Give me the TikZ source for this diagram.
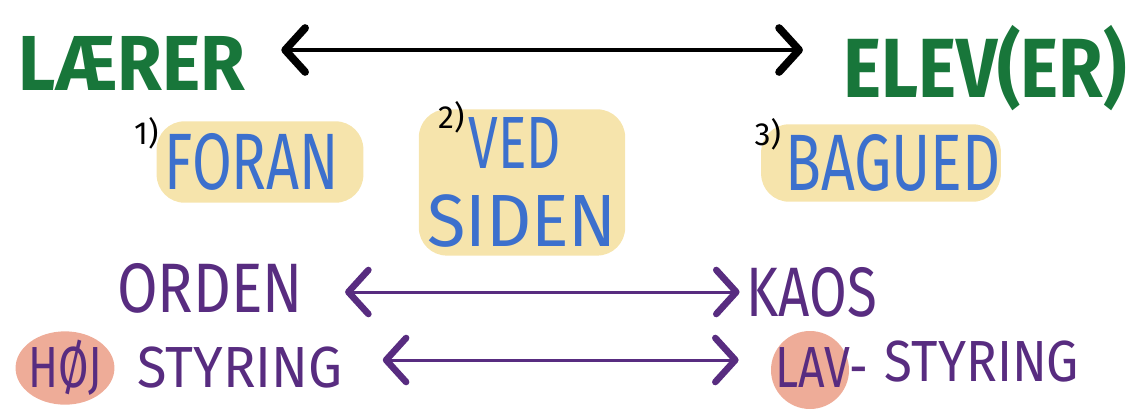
\documentclass[tikz,border=0pt]{standalone}
\usepackage{fontspec}
\setmainfont{Fira Sans}
\usepackage{graphicx}
\usetikzlibrary{
    positioning,      % 相对定位
    arrows.meta,      % 箭头样式
    shapes.geometric, % 椭圆
    fit,              % 节点拟合
    backgrounds       % 背景层
}
\definecolor{laerergreen}{RGB}{24,118,58}
\definecolor{penblue}{RGB}{60,112,205}
\definecolor{penpurple}{RGB}{88,44,128}
\definecolor{blobyellow}{RGB}{246,228,172}
\definecolor{blobpink}{RGB}{238,172,152}
\newcommand{\hw}[2][0.8]{\scalebox{#1}[1]{#2}}

\begin{document}
\begin{tikzpicture}[
        x=1pt, y=-1pt,
        title/.style={
            text=laerergreen,
            font=\fontsize{78}{78}\selectfont\bfseries,
            inner sep=0pt
        },
        place/.style={
            text=penblue,
            font=\fontsize{80}{80}\selectfont,
            inner sep=0pt
        },
        pole/.style={
            text=penpurple,
            font=\fontsize{70}{70}\selectfont,
            inner sep=0pt
        },
        polesm/.style={
            pole,
            font=\fontsize{58}{58}\selectfont
        },
        num/.style={
            text=black,
            font=\fontsize{32}{32}\selectfont,
            inner sep=0pt
        },
        blob/.style={
            fill=#1,
            draw=none,
            rounded corners=28pt
        },
        blob/.default=blobyellow,
        arrow/.style={
            {Straight Barb[length=20pt,width=44pt,line width=0pt 2.2,round]}-{Straight Barb[length=20pt,width=44pt,line width=0pt 2.2,round]},
            line width=3.5pt,
            line cap=round
        },
        parrow/.style={
            arrow,
            draw=penpurple,
            line width=3pt
        }
    ]
    \useasboundingbox (0,0) rectangle (1138,410);

    % 第一层：教师与学生
    \node[title] (laerer) at (132,63) {\hw[0.93]{LÆRER}};
    \node[title, font=\fontsize{84}{84}\selectfont\bfseries] (elev) at (985,68) {\hw[0.86]{ELEV(ER)}};
    \draw[arrow] ([xshift=36pt,yshift=13pt]laerer.east) -- ([xshift=-40pt,yshift=18pt]elev.west);

    % 第二层：三种位置
    \node[place] (foran) at (252,162) {\hw[0.72]{FORAN}};
    \node[place, font=\fontsize{74}{74}\selectfont] (ved) at (515,143) {\hw[0.72]{VED}};
    \node[place, font=\fontsize{74}{74}\selectfont] (siden) at (522,221) {\hw[0.95]{SIDEN}};
    \node[place] (bagued) at (893,163) {\hw[0.74]{BAGUED}};
    \node[num, left=6pt of foran.north west] (n1) {1)};
    \node[num, left=4pt of ved.north west] (n2) {2)};
    \node[num, left=4pt of bagued.north west] (n3) {3)};

    % 第三层：秩序与混乱
    \node[pole] (orden) at (210,288) {\hw[0.84]{ORDEN}};
    \node[pole] (kaos) at (812,292) {\hw[0.78]{KAOS}};
    \draw[parrow] ([xshift=42pt,yshift=-4pt]orden.east) -- ([xshift=-7pt]kaos.west);

    % 第四层：控制程度
    \node[polesm] (hoj) at (65,368) {\hw[0.76]{HØJ}};
    \node[polesm] (styr1) at (240,368) {\hw[0.93]{STYRING}};
    \node[polesm] (lav) at (822,368) {\hw[0.8]{LAV-}};
    \node[polesm] (styr2) at (982,362) {\hw[0.88]{STYRING}};
    \draw[parrow] ([xshift=40pt,yshift=8pt]styr1.east) -- ([xshift=-37pt,yshift=8pt]lav.west);

    % 背景色块
    \begin{scope}[on background layer]
        \node[blob, fit=(foran), inner xsep=16pt, inner ysep=12pt, xshift=8pt] (b1) {};
        \node[blob, fit=(ved)(siden), inner sep=8pt] (b2) {};
        \node[blob, fit=(bagued), inner xsep=12pt, inner ysep=10pt, xshift=-12pt] (b3) {};
        \node[blob=blobpink, ellipse, fit=(hoj), inner sep=-2pt] (b4) {};
        \node[blob=blobpink, circle, minimum size=78pt, xshift=-12pt, yshift=-2pt] (b5) at (lav) {};
    \end{scope}
\end{tikzpicture}
\end{document}
